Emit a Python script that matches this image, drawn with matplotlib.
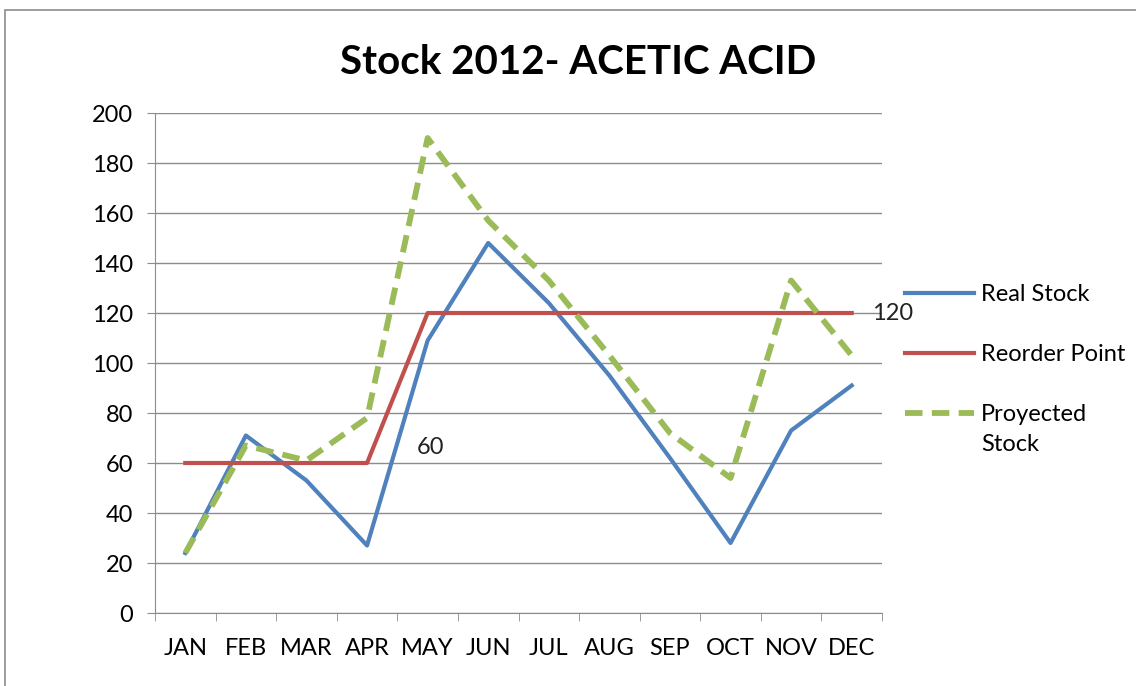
import numpy as np
import matplotlib.pyplot as plt
from matplotlib.patches import Rectangle

months = ['JAN', 'FEB', 'MAR', 'APR', 'MAY', 'JUN', 'JUL', 'AUG', 'SEP', 'OCT', 'NOV', 'DEC']
real_stock = [24, 71, 53, 27, 109, 148, 124, 95, 62, 28, 73, 91]
reorder_point = [60, 60, 60, 60, 120, 120, 120, 120, 120, 120, 120, 120]
projected_stock = [24, 67, 61, 78, 190, 157, 133, 103, 72, 54, 133, 103]
y_ticks = [0, 20, 40, 60, 80, 100, 120, 140, 160, 180, 200]

plt.rcParams['font.family'] = ['Lato', 'DejaVu Sans']
fs = 17

fig = plt.figure(figsize=(11.36, 6.86), dpi=100)
ax = fig.add_axes([155/1136, 73/686, 727/1136, 500/686])

# chart area border
fig.patches.append(Rectangle((5/1136, -0.05), 1.1, (686-10)/686 + 0.05,
                             transform=fig.transFigure, fill=False,
                             edgecolor='#8c8c8c', linewidth=1.2))

x = np.arange(len(months))
l1, = ax.plot(x, real_stock, color='#4F81BD', lw=3, label='Real Stock')
l2, = ax.plot(x, reorder_point, color='#C0504D', lw=3, label='Reorder Point')
l3, = ax.plot(x, projected_stock, color='#9BBB59', lw=4.2, ls=(0, (3, 1.6)),
              label='Proyected')

ax.text(4.05, 66, '60', fontsize=fs, ha='center', va='center', color='#222222')
ax.text(11.33, 120, '120', fontsize=fs, ha='left', va='center', color='#222222',
        clip_on=False)

ax.set_xlim(-0.5, 11.5)
ax.set_ylim(0, 200)
ax.set_yticks(y_ticks)
ax.set_xticks(x)
ax.set_xticklabels(months)
ax.set_xticks(np.arange(-0.5, 12, 1), minor=True)
ax.tick_params(axis='x', which='major', length=0, pad=18, labelsize=fs)
ax.tick_params(axis='x', which='minor', length=6, color='#8c8c8c', direction='out')
ax.tick_params(axis='y', length=6, color='#8c8c8c', labelsize=fs, pad=10)
ax.grid(axis='y', color='#8c8c8c', lw=1)
ax.set_axisbelow(True)
for s in ['top', 'right']:
    ax.spines[s].set_visible(False)
for s in ['left', 'bottom']:
    ax.spines[s].set_color('#8c8c8c')

fig.text(578/1136, 1 - 62/686, 'Stock 2012- ACETIC ACID', fontsize=29,
         fontweight='bold', ha='center', va='center')

leg = fig.legend(handles=[l1, l2, l3], loc='upper left',
                 bbox_to_anchor=(884/1136, 1 - 263/686), frameon=False,
                 fontsize=fs, handlelength=2.9, labelspacing=1.65, handletextpad=0.3)

# second line of the wrapped legend label, under "Proyected"
fig.canvas.draw()
bb = leg.get_texts()[2].get_window_extent()
fig.text(bb.x0 / 1136, (bb.y0 - 30) / 686, 'Stock', fontsize=fs,
         ha='left', va='bottom')

fig.savefig('out.png', dpi=100)
